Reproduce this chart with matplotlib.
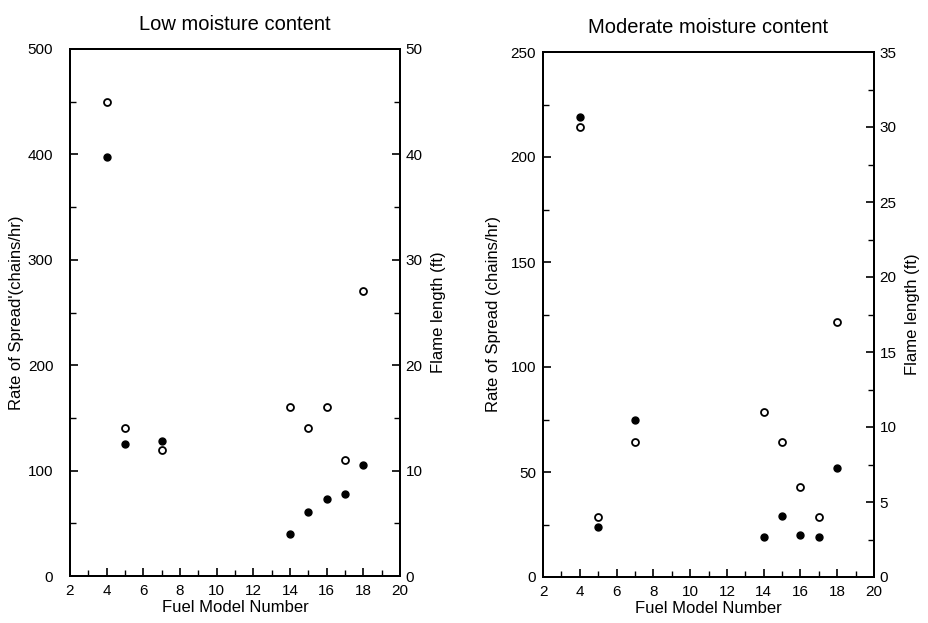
import matplotlib
matplotlib.use("Agg")
import matplotlib.pyplot as plt
from matplotlib.ticker import MultipleLocator

plt.rcParams['font.family'] = ['Liberation Sans', 'DejaVu Sans']

fuel_models = [4, 5, 7, 14, 15, 16, 17, 18]

# Low moisture content
low_ros = [398, 125, 128, 40, 61, 73, 78, 105]          # chains/hr (filled)
low_flame = [45, 14, 12, 16, 14, 16, 11, 27]            # ft (open)

# Moderate moisture content
mod_ros = [219, 24, 75, 19, 29, 20, 19, 52]             # chains/hr (filled)
mod_flame = [30, 4, 9, 11, 9, 6, 4, 17]                 # ft (open)

titles = ["Low moisture content", "Moderate moisture content"]
ros_labels = ["Rate of Spread'(chains/hr)", "Rate of Spread (chains/hr)"]
flame_label = "Flame length (ft)"
xlabel = "Fuel Model Number"

fig = plt.figure(figsize=(9.29, 6.23), dpi=100)
W, H = 929, 623

def px_axes(l, t, r, b):
    return fig.add_axes([l / W, (H - b) / H, (r - l) / W, (b - t) / H])

panels = [
    dict(box=(70, 49, 400, 576), ros=low_ros, flame=low_flame, ymax=500, ymaj=100, ymin=50,
         fmax=50, fmaj=10, fmin=5, title=titles[0], ylab=ros_labels[0], lpad=12, ylpad=3),
    dict(box=(543, 52, 874, 577), ros=mod_ros, flame=mod_flame, ymax=250, ymaj=50, ymin=25,
         fmax=35, fmaj=5, fmin=2.5, title=titles[1], ylab=ros_labels[1], lpad=5, ylpad=7),
]

fs_tick = 11
fs_lab = 12
for p in panels:
    ax = px_axes(*p['box'])
    ax2 = ax.twinx()
    ax.set_xlim(2, 20)
    ax.set_ylim(0, p['ymax'])
    ax2.set_ylim(0, p['fmax'])
    ax.xaxis.set_major_locator(MultipleLocator(2))
    ax.xaxis.set_minor_locator(MultipleLocator(1))
    ax.yaxis.set_major_locator(MultipleLocator(p['ymaj']))
    ax.yaxis.set_minor_locator(MultipleLocator(p['ymin']))
    ax2.yaxis.set_major_locator(MultipleLocator(p['fmaj']))
    ax2.yaxis.set_minor_locator(MultipleLocator(p['fmin']))
    for a in (ax, ax2):
        a.tick_params(which='major', direction='in', length=6, width=1.2, labelsize=fs_tick, pad=4)
        a.tick_params(which='minor', direction='in', length=4, width=1.0)
        for s in a.spines.values():
            s.set_linewidth(1.4)
    ax.tick_params(axis='y', which='major', pad=p['lpad'])
    ax.tick_params(axis='x', which='major', pad=6)
    ax.tick_params(axis='x', top=False, which='both')
    ax.plot(fuel_models, p['ros'], linestyle='none', marker='o', markersize=5,
            markerfacecolor='black', markeredgecolor='black', zorder=3)
    ax2.plot(fuel_models, p['flame'], linestyle='none', marker='o', markersize=5,
             markerfacecolor='white', markeredgecolor='black', markeredgewidth=1.3, zorder=3)
    ax.set_title(p['title'], fontsize=14.5, pad=14)
    ax.set_xlabel(xlabel, fontsize=fs_lab, labelpad=1)
    ax.set_ylabel(p['ylab'], fontsize=fs_lab, labelpad=p['ylpad'])
    ax2.set_ylabel(flame_label, fontsize=fs_lab, labelpad=6)

fig.savefig("out.png", dpi=100)
